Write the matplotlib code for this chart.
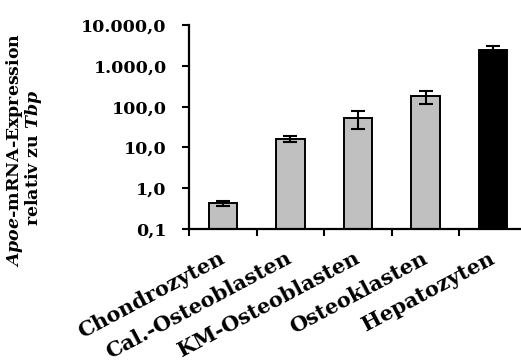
import matplotlib
matplotlib.use('Agg')
import matplotlib.pyplot as plt
from matplotlib.ticker import FixedLocator, FuncFormatter, NullFormatter

plt.rcParams['font.family'] = 'DejaVu Serif'
plt.rcParams['font.weight'] = 'bold'
plt.rcParams['mathtext.fontset'] = 'custom'
plt.rcParams['mathtext.rm'] = 'DejaVu Serif:bold'
plt.rcParams['mathtext.it'] = 'DejaVu Serif:italic:bold'

cells = ['Chondrozyten', 'Cal.-Osteoblasten', 'KM-Osteoblasten', 'Osteoklasten', 'Hepatozyten']
expr = [0.43, 16.0, 53.5, 180.0, 2470.0]
err = [0.06, 2.6, 25.0, 62.0, 600.0]
colors = ['#c0c0c0', '#c0c0c0', '#c0c0c0', '#c0c0c0', '#000000']
yticks = [0.1, 1, 10, 100, 1000, 10000]

W, H = 521, 362
fig = plt.figure(figsize=(W/100, H/100), dpi=100)
ax = fig.add_axes([189/W, 1-229/H, 338/W, 204/H])

x = range(len(cells))
ax.bar(x, expr, width=0.42, color=colors, edgecolor='black', linewidth=1.4, zorder=2)
ax.errorbar(x, expr, yerr=err, fmt='none', ecolor='black', elinewidth=1.5,
            capsize=4.8, capthick=1.5, zorder=3)

ax.set_yscale('log')
ax.set_ylim(0.1, 10000)
ax.set_xlim(-0.5, 4.5)

def de_fmt(v, pos):
    s = '{:,.1f}'.format(v)
    return s.replace(',', 'X').replace('.', ',').replace('X', '.')

ax.yaxis.set_major_locator(FixedLocator(yticks))
ax.yaxis.set_major_formatter(FuncFormatter(de_fmt))
ax.yaxis.set_minor_locator(FixedLocator([]))
ax.yaxis.set_minor_formatter(NullFormatter())
ax.tick_params(axis='y', which='major', direction='out', length=5, width=1.5,
               pad=11, labelsize=12.5)

# tick marks between the categories, labels centred under the bars
ax.xaxis.set_major_locator(FixedLocator([-0.5, 0.5, 1.5, 2.5, 3.5, 4.5]))
ax.xaxis.set_major_formatter(NullFormatter())
ax.set_xticks(list(x), minor=True)
ax.set_xticklabels(cells, minor=True, rotation=28, ha='right', va='center',
                   rotation_mode='anchor', fontsize=15)
ax.tick_params(axis='x', which='major', direction='out', length=5, width=1.5)
ax.tick_params(axis='x', which='minor', length=0, pad=20)

for side in ['top', 'right']:
    ax.spines[side].set_visible(False)
for side in ['left', 'bottom']:
    ax.spines[side].set_linewidth(1.6)

fig.text(19/W, 1-150/H, r'$Apoe$-mRNA-Expression', rotation=90, rotation_mode='anchor',
         ha='center', va='baseline', fontsize=12.5)
fig.text(38/W, 1-158/H, r'relativ zu $Tbp$', rotation=90, rotation_mode='anchor',
         ha='center', va='baseline', fontsize=12.5)

fig.savefig('out.png', dpi=100)
